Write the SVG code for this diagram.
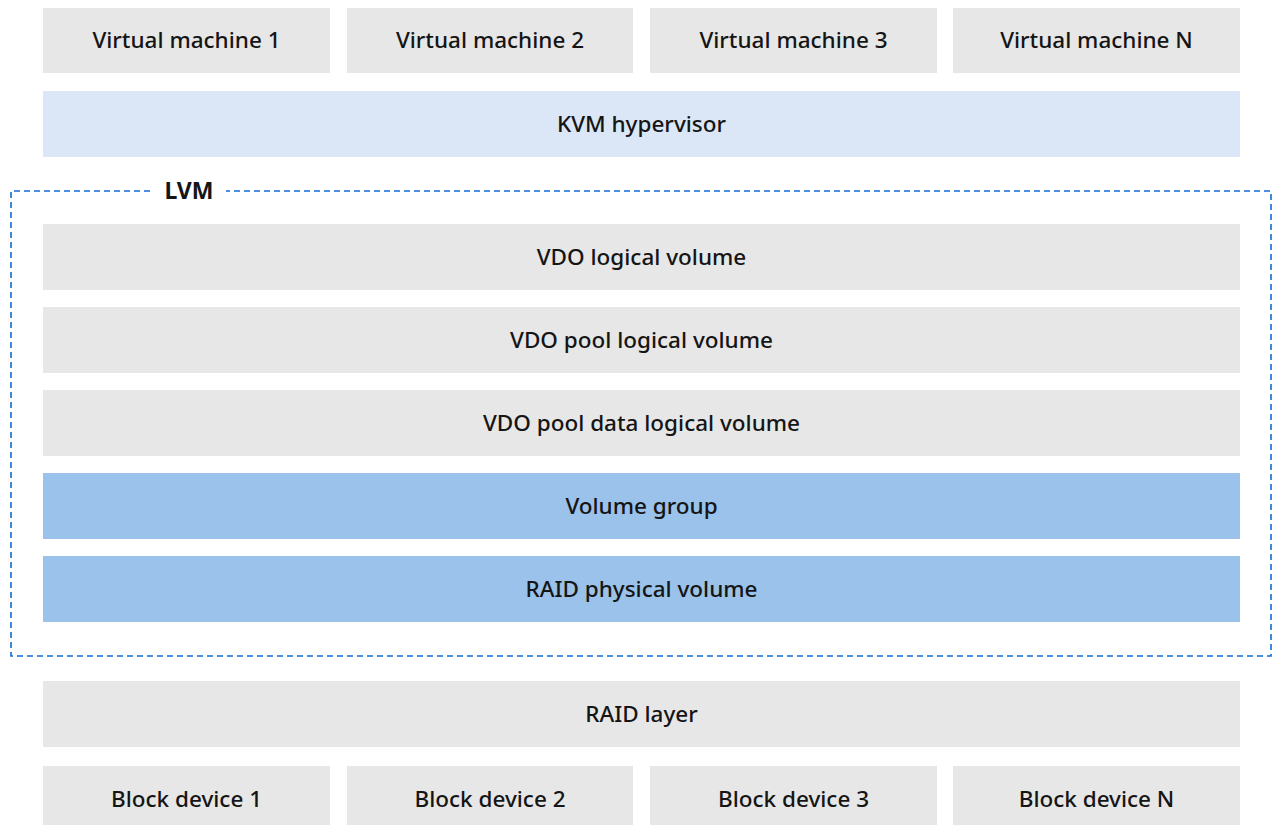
<svg xmlns="http://www.w3.org/2000/svg" width="1272" height="825" viewBox="0 0 1272 825">
<style>
.g{fill:#e7e7e7}
.lb{fill:#dbe7f6}
.mb{fill:#9ac2ea}
text{font-family:"Noto Sans","Liberation Sans",sans-serif;font-size:22.5px;font-weight:500;fill:#151515;text-anchor:middle;dominant-baseline:central}
.t{font-weight:bold;font-size:23px}
</style>
<rect width="1272" height="825" fill="#ffffff"/>
<g id="lvm">
<path d="M190 191 H11 V656 H1271 V191 H190" fill="none" stroke="#0f6bd6" stroke-width="1.6" stroke-dasharray="6,4"/>
<rect x="152" y="178" width="74" height="26" fill="#ffffff"/>
<text class="t" x="189" y="190">LVM</text>
</g>
<g id="vm1"><rect class="g" x="43" y="8" width="287" height="65"/><text x="186.5" y="39.5">Virtual machine 1</text></g>
<g id="vm2"><rect class="g" x="347" y="8" width="286" height="65"/><text x="490" y="39.5">Virtual machine 2</text></g>
<g id="vm3"><rect class="g" x="650" y="8" width="287" height="65"/><text x="793.5" y="39.5">Virtual machine 3</text></g>
<g id="vmn"><rect class="g" x="953" y="8" width="287" height="65"/><text x="1096.5" y="39.5">Virtual machine N</text></g>
<g id="kvm"><rect class="lb" x="43" y="91" width="1197" height="66"/><text x="641.5" y="123">KVM hypervisor</text></g>
<g id="vdolv"><rect class="g" x="43" y="224" width="1197" height="66"/><text x="641.5" y="256">VDO logical volume</text></g>
<g id="vdopool"><rect class="g" x="43" y="307" width="1197" height="66"/><text x="641.5" y="339">VDO pool logical volume</text></g>
<g id="vdodata"><rect class="g" x="43" y="390" width="1197" height="66"/><text x="641.5" y="422">VDO pool data logical volume</text></g>
<g id="vg"><rect class="mb" x="43" y="473" width="1197" height="66"/><text x="641.5" y="505">Volume group</text></g>
<g id="raidpv"><rect class="mb" x="43" y="556" width="1197" height="66"/><text x="641.5" y="588">RAID physical volume</text></g>
<g id="raid"><rect class="g" x="43" y="681" width="1197" height="66"/><text x="641.5" y="713">RAID layer</text></g>
<g id="bd1"><rect class="g" x="43" y="766" width="287" height="70"/><text x="186.5" y="798">Block device 1</text></g>
<g id="bd2"><rect class="g" x="347" y="766" width="286" height="70"/><text x="490" y="798">Block device 2</text></g>
<g id="bd3"><rect class="g" x="650" y="766" width="287" height="70"/><text x="793.5" y="798">Block device 3</text></g>
<g id="bdn"><rect class="g" x="953" y="766" width="287" height="70"/><text x="1096.5" y="798">Block device N</text></g>
<g id="connectors"></g>
</svg>
